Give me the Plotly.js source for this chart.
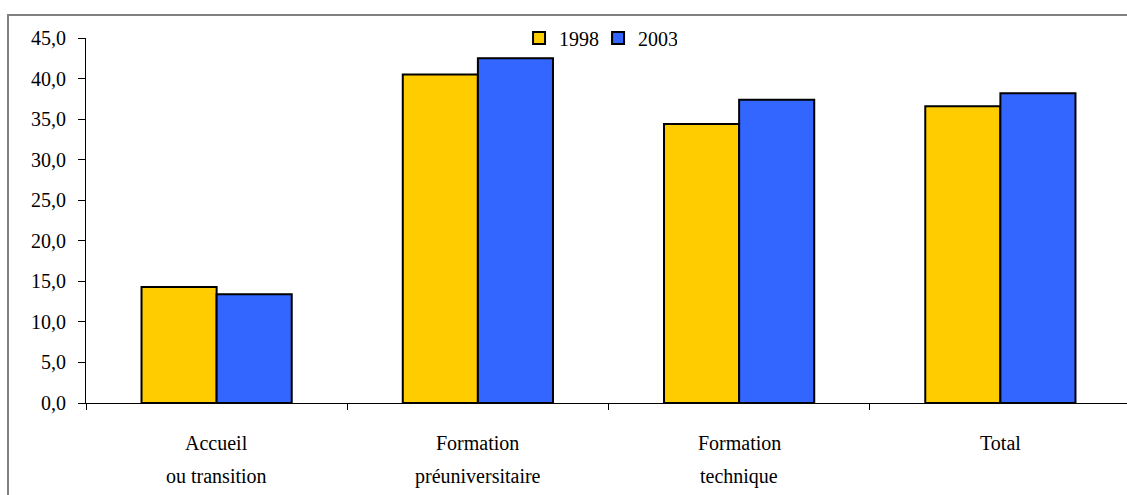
<!DOCTYPE html>
<html>
<head>
<meta charset="utf-8">
<script src="https://cdn.plot.ly/plotly-3.0.1.min.js"></script>
<style>
  html, body { margin: 0; padding: 0; background: #fff; overflow: hidden; width: 1127px; height: 495px; }
  #frame { position: absolute; left: 7px; top: 14px; width: 1200px; height: 600px; border: 2px solid #808080; box-sizing: border-box; }
  #chart { position: absolute; left: 0; top: 0; width: 1140px; height: 495px; }
</style>
</head>
<body>
<div id="frame"></div>
<div id="chart"></div>
<script>
const categories = ["Accueil ou transition", "Formation préuniversitaire", "Formation technique", "Total"];
const labelLine1 = ["Accueil", "Formation", "Formation", "Total"];
const labelLine2 = ["ou transition", "préuniversitaire", "technique", ""];
const series1998 = [14.3, 40.5, 34.4, 36.6];
const series2003 = [13.4, 42.5, 37.4, 38.2];
const seriesNames = ["1998", "2003"];
const yTicks = [0, 5, 10, 15, 20, 25, 30, 35, 40, 45];

const font = { family: "'Times New Roman', 'Liberation Serif', 'DejaVu Serif', serif", size: 20, color: "#000" };

const traces = [
  { type: "bar", name: seriesNames[0], x: categories, y: series1998,
    marker: { color: "#FFCC00", line: { color: "#000", width: 2 } } },
  { type: "bar", name: seriesNames[1], x: categories, y: series2003,
    marker: { color: "#3366FF", line: { color: "#000", width: 2 } } }
];

const annotations = [];
categories.forEach((c, i) => {
  annotations.push({ x: c, xref: "x", y: 443, yref: "paper", text: labelLine1[i], showarrow: false, font: font });
  if (labelLine2[i]) annotations.push({ x: c, xref: "x", y: 476, yref: "paper", text: labelLine2[i], showarrow: false, font: font });
});
// convert pixel y positions to paper coordinates (plot top 38, bottom 403)
annotations.forEach(a => { a.y = (403 - a.y) / 365; a.yanchor = "middle"; });

const layout = {
  width: 1140, height: 495,
  margin: { l: 86, r: 9, t: 38, b: 92 },
  paper_bgcolor: "rgba(0,0,0,0)", plot_bgcolor: "rgba(0,0,0,0)",
  font: font,
  barmode: "group", bargap: 0.425, bargroupgap: 0,
  showlegend: true,
  legend: { orientation: "h", x: 0.49, xanchor: "center", y: 1.0, yanchor: "middle",
            font: font, itemwidth: 30, entrywidth: 34, tracegroupgap: 0, bgcolor: "rgba(0,0,0,0)" },
  annotations: annotations,
  xaxis: { type: "category", showline: true, linecolor: "#000", linewidth: 1,
           ticks: "outside", tickson: "boundaries", ticklen: 6, tickcolor: "#000",
           showgrid: false, zeroline: false, showticklabels: false },
  yaxis: { range: [0, 45], tickvals: yTicks, ticktext: yTicks.map(v => v.toFixed(1).replace(".", ",")),
           showline: true, linecolor: "#000", linewidth: 1, ticks: "outside", ticklen: 7,
           tickcolor: "#000", showgrid: false, zeroline: false, tickfont: font, ticklabelstandoff: 8 }
};

Plotly.newPlot("chart", traces, layout, { displayModeBar: false, staticPlot: true });
</script>
</body>
</html>
